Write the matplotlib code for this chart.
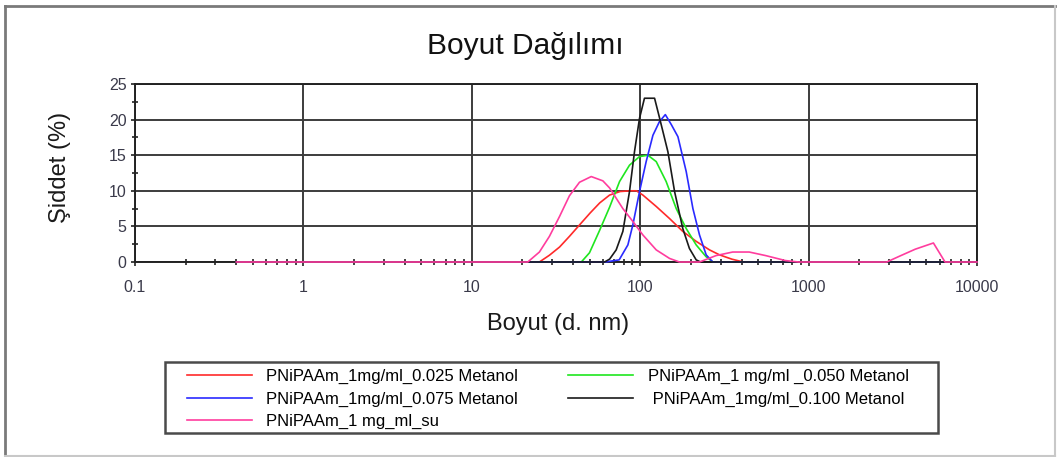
import matplotlib
matplotlib.use("Agg")
import matplotlib.pyplot as plt
from matplotlib.patches import Rectangle
from matplotlib.ticker import LogLocator, FixedLocator, MultipleLocator, FuncFormatter, NullFormatter

# Size distribution by intensity (d. nm vs %)
red_size = [0.4, 25.2, 28.9, 33.2, 38, 43.6, 50.5, 57.5, 65.8, 76, 88, 95, 103.7, 124.5, 149.4,
            179, 215, 258, 296, 350, 410, 10000]
red_int = [0, 0, 0.95, 2.1, 3.6, 5.2, 6.9, 8.3, 9.4, 9.9, 10.0, 10.0, 9.4, 7.8, 6.1,
           4.3, 2.9, 1.7, 1.0, 0.4, 0, 0]

green_size = [0.4, 44.7, 50, 57.3, 65.8, 75.4, 86.4, 99, 111, 124.5, 142.6, 163.7, 187.6, 215, 246, 270, 10000]
green_int = [0, 0, 1.3, 4.4, 7.7, 11.3, 13.6, 14.8, 15.0, 14.1, 11.3, 7.5, 4.7, 2.4, 0.75, 0, 0]

blue_size = [0.4, 62, 75, 84.5, 90.4, 99.1, 108.5, 119, 130, 141, 153, 167.5, 187.6, 205.6, 225, 246.5, 270, 10000]
blue_int = [0, 0, 0.3, 2.4, 5.2, 9.9, 14.1, 17.8, 19.7, 20.7, 19.3, 17.6, 12.7, 7.5, 3.8, 1.0, 0, 0]

black_size = [0.4, 61.4, 65.8, 72, 78.9, 86.4, 92.5, 99.1, 106, 121.7, 130.4, 146, 160, 179, 196, 215, 228, 10000]
black_int = [0, 0, 0.4, 1.7, 4.3, 9.9, 15.5, 20.2, 23.0, 23.0, 20.2, 15.5, 9.9, 4.7, 1.9, 0.3, 0, 0]

pink_size = [0.4, 21.5, 25.2, 28.9, 33.2, 38, 43.6, 51.2, 60, 65.8, 78.9, 90.4, 103.7, 124.5, 149.4, 171,
             225, 282, 354, 444, 556, 729, 873, 2910, 3500, 4300, 5510, 6460, 10000]
pink_int = [0, 0, 1.4, 3.6, 6.4, 9.3, 11.2, 12.0, 11.4, 10.4, 7.5, 5.7, 3.8, 1.7, 0.5, 0,
            0, 0.9, 1.4, 1.4, 0.9, 0.2, 0, 0, 0.86, 1.8, 2.67, 0, 0]

labels = [
    "PNiPAAm_1mg/ml_0.025 Metanol",
    "PNiPAAm_1 mg/ml _0.050 Metanol",
    "PNiPAAm_1mg/ml_0.075 Metanol",
    " PNiPAAm_1mg/ml_0.100 Metanol",
    "PNiPAAm_1 mg_ml_su",
]
colors = ["#ff2a2a", "#1fe61f", "#2a2aff", "#1a1a1a", "#ff3d9e"]

x_ticks = [0.1, 1, 10, 100, 1000, 10000]
y_ticks = [0, 5, 10, 15, 20, 25]

W, H = 1057, 457
fig = plt.figure(figsize=(W / 100, H / 100), dpi=100)
fig.patch.set_facecolor("white")

regular = ["Liberation Sans", "DejaVu Sans"]

def fx(px):
    return px / W

def fy(py):
    return 1 - py / H

# outer frame
fig.add_artist(plt.Line2D([fx(5), fx(5)], [fy(456), fy(6)], color="#7a7a7a", lw=2.0, transform=fig.transFigure))
fig.add_artist(plt.Line2D([fx(5), fx(1055)], [fy(6), fy(6)], color="#7a7a7a", lw=2.0, transform=fig.transFigure))
fig.add_artist(plt.Line2D([fx(5), fx(1055)], [fy(456), fy(456)], color="#c8c8c8", lw=1.5, transform=fig.transFigure))
fig.add_artist(plt.Line2D([fx(1055), fx(1055)], [fy(456), fy(6)], color="#c8c8c8", lw=1.5, transform=fig.transFigure))

ax = fig.add_axes([fx(135), fy(262), fx(977) - fx(135), fy(84) - fy(262)])
ax.set_xscale("log")
ax.set_xlim(0.1, 10000)
ax.set_ylim(0, 25)

series = [
    (red_size, red_int),
    (green_size, green_int),
    (blue_size, blue_int),
    (black_size, black_int),
    (pink_size, pink_int),
]
handles = []
for (xs, ys), c, lab in zip(series, colors, labels):
    ln, = ax.plot(xs, ys, color=c, lw=1.2, label=lab, clip_on=False, zorder=4)
    handles.append(ln)

grid_c = "#3c3c3c"
ax.xaxis.set_major_locator(FixedLocator(x_ticks))
ax.xaxis.set_major_formatter(FuncFormatter(lambda v, p: "%g" % v))
ax.xaxis.set_minor_locator(LogLocator(base=10, subs=range(2, 10), numticks=20))
ax.xaxis.set_minor_formatter(NullFormatter())
ax.yaxis.set_major_locator(FixedLocator(y_ticks))
ax.yaxis.set_minor_locator(MultipleLocator(2.5))
ax.grid(which="major", color=grid_c, lw=1.4)
for s in ax.spines.values():
    s.set_color("#222222")
    s.set_linewidth(1.4)
ax.tick_params(axis="both", which="major", direction="out", length=3, width=1.2, color="#222222",
               labelsize=11.5, labelcolor="#3a3a4a")
ax.tick_params(axis="x", which="major", pad=10)
ax.tick_params(axis="y", which="major", pad=3)
ax.tick_params(axis="both", which="minor", direction="inout", length=4, width=1.2, color="#222222")
for t in ax.get_xticklabels() + ax.get_yticklabels():
    t.set_family(regular)

fig.text(fx(525), fy(54), "Boyut Dağılımı", ha="center", va="baseline", fontsize=21.5,
         family=regular, color="#111111")
fig.text(fx(558), fy(330), "Boyut (d. nm)", ha="center", va="baseline", fontsize=17,
         family=regular, color="#1a1a1a")
fig.text(fx(60), fy(167), "Şiddet (%)", ha="center", va="center", rotation=90, fontsize=17,
         family=regular, color="#1a1a1a")

# legend box
fig.add_artist(Rectangle((fx(165), fy(433)), fx(938) - fx(165), fy(362) - fy(433),
                         transform=fig.transFigure, fill=False, edgecolor="#4a4a4a", lw=1.8))
order = [0, 2, 4, 1, 3]
fig.legend([handles[i] for i in order], [labels[i] for i in order], ncol=2,
           loc="upper left", bbox_to_anchor=(fx(187), fy(369)), frameon=False,
           borderpad=0, borderaxespad=0, handlelength=3.9, handletextpad=0.87,
           labelspacing=0.44, columnspacing=3.0,
           prop={"family": regular, "size": 12})

fig.savefig("out.png", dpi=100, facecolor="white")
